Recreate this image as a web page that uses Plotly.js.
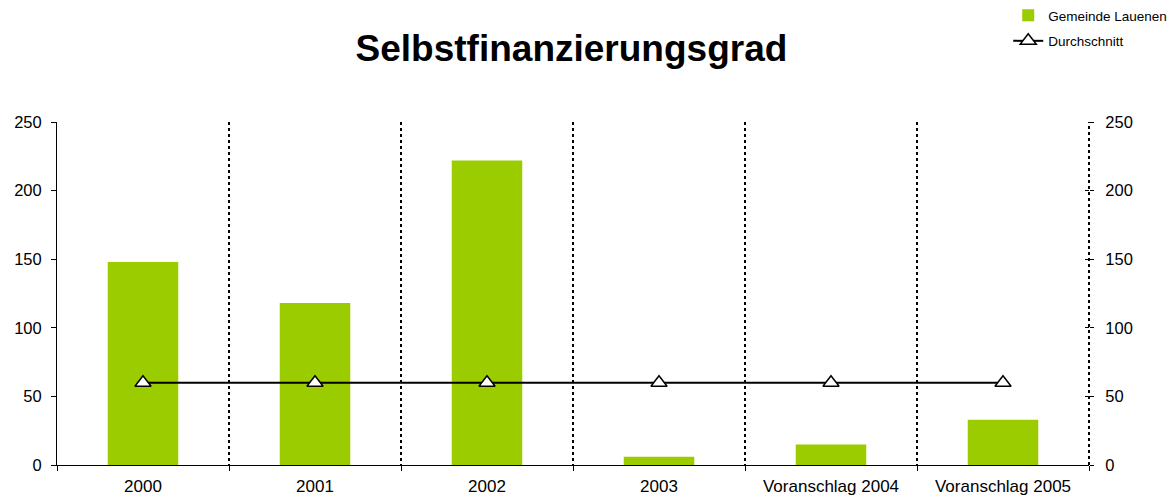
<!DOCTYPE html>
<html>
<head>
<meta charset="utf-8">
<script src="https://cdn.plot.ly/plotly-3.0.1.min.js"></script>
<style>html,body{margin:0;padding:0;background:#fff;}#chart{width:1171px;height:498px;}</style>
</head>
<body>
<div id="chart"></div>
<script>
const categories = ["2000", "2001", "2002", "2003", "Voranschlag 2004", "Voranschlag 2005"];
const gemeindeValues = [148, 118, 222, 6, 15, 33];
const durchschnittValues = [60, 60, 60, 60, 60, 60];
const yTicks = [0, 50, 100, 150, 200, 250];

const traces = [
  {
    type: "bar", name: "Gemeinde Lauenen", x: categories, y: gemeindeValues, legendgroup: "a",
    marker: {color: "#9ACC00"}, hoverinfo: "skip"
  },
  {
    type: "scatter", mode: "lines+markers", name: "Durchschnitt", x: categories, y: durchschnittValues,
    legendgroup: "b",
    line: {color: "#000", width: 2},
    marker: {symbol: "triangle-up", size: 14, color: "#fff", line: {color: "#000", width: 1.5}},
    hoverinfo: "skip"
  },
  {
    type: "scatter", mode: "markers", x: categories, y: durchschnittValues, yaxis: "y2",
    showlegend: false, marker: {opacity: 0}, hoverinfo: "skip"
  },
  {
    type: "scatter", mode: "markers", x: categories, y: durchschnittValues, yaxis: "y3",
    showlegend: false, marker: {opacity: 0}, hoverinfo: "skip"
  }
];

const layout = {
  width: 1171, height: 498,
  margin: {l: 57, r: 82, t: 122, b: 33, autoexpand: false},
  paper_bgcolor: "#fff", plot_bgcolor: "#fff",
  font: {family: "Liberation Sans, Arial, sans-serif", color: "#000", size: 16},
  title: {text: "<b>Selbstfinanzierungsgrad</b>", font: {size: 37, family: "Liberation Sans, Arial, sans-serif"},
          x: 0.488, xanchor: "center", xref: "container", y: 0.904, yanchor: "middle", yref: "container"},
  bargap: 0.59,
  showlegend: true,
  legend: {xref: "container", yref: "container", x: 0.861, y: 1.0, xanchor: "left", yanchor: "top",
           font: {size: 13.5}, bgcolor: "rgba(0,0,0,0)", itemwidth: 30, tracegroupgap: 5},
  shapes: [
    {type: "line", xref: "paper", yref: "paper", x0: 1, x1: 1, y0: 0, y1: 1,
     line: {color: "#000", width: 2, dash: "dot"}}
  ],
  xaxis: {
    type: "category", tickson: "boundaries", ticks: "outside", ticklen: 5, tickcolor: "#000",
    showgrid: true, gridcolor: "#000", gridwidth: 2, griddash: "dot", automargin: false,
    showline: true, linecolor: "#000", linewidth: 1, zeroline: false,
    tickfont: {size: 17}, ticklabelstandoff: 6, range: [-0.5, 5.5], fixedrange: true
  },
  yaxis: {
    range: [0, 250], tickvals: yTicks, ticks: "outside", ticklen: 5, tickcolor: "#000", automargin: false,
    showgrid: false, zeroline: false, showline: true, linecolor: "#000", linewidth: 1,
    tickfont: {size: 16.5}, ticklabelstandoff: 6, fixedrange: true
  },
  yaxis2: {
    overlaying: "y", side: "right", range: [0, 250], tickvals: yTicks, ticks: "outside", ticklen: 4,
    tickcolor: "#000", showgrid: false, zeroline: false, showline: false, tickfont: {size: 16.5},
    ticklabelstandoff: 8, fixedrange: true, automargin: false
  },
  yaxis3: {
    overlaying: "y", side: "right", range: [0, 250], tickvals: yTicks, ticks: "inside", ticklen: 4,
    tickcolor: "#000", showgrid: false, zeroline: false, showline: false, showticklabels: false,
    fixedrange: true, automargin: false
  }
};

Plotly.newPlot("chart", traces, layout, {displayModeBar: false, staticPlot: true});
</script>
</body>
</html>
